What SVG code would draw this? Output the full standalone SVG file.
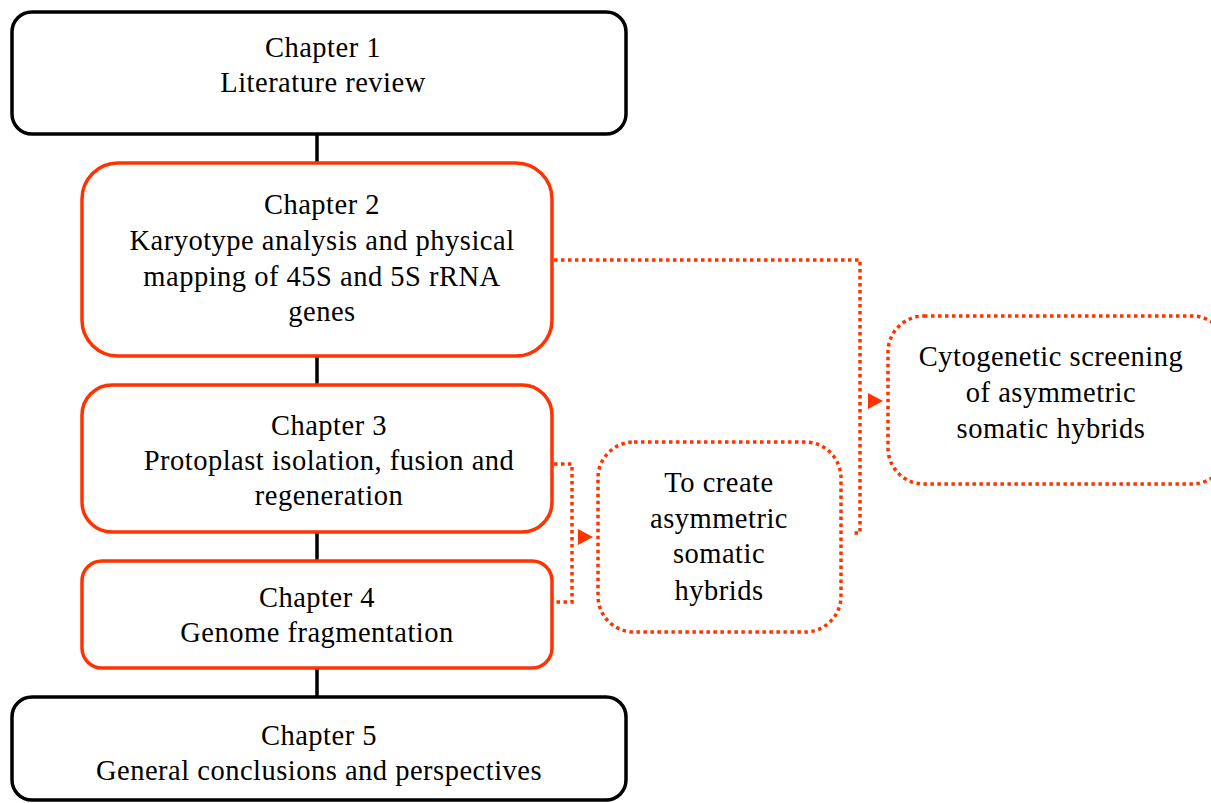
<svg xmlns="http://www.w3.org/2000/svg" width="1211" height="803" viewBox="0 0 1211 803">
<defs>
<style>
.blk{fill:#fff;stroke:#000;stroke-width:3.5}
.red{fill:#fff;stroke:#ff3300;stroke-width:3.5}
.dot{fill:none;stroke:#ff3300;stroke-width:3.5;stroke-dasharray:3.5 3.5}
.ln{stroke:#000;stroke-width:3.5}
text{font-family:"Liberation Serif","Times New Roman",serif;font-size:28.5px;letter-spacing:0.5px;fill:#000;text-anchor:middle}
.arr{fill:#ff3300}
</style>
</defs>
<g id="connectors">
<line class="ln" x1="317" y1="134" x2="317" y2="163"/>
<line class="ln" x1="317" y1="356" x2="317" y2="385"/>
<line class="ln" x1="317" y1="532" x2="317" y2="561"/>
<line class="ln" x1="317" y1="668" x2="317" y2="697"/>
<polyline class="dot" points="554,260 860,260 860,533 851,533"/>
<polygon class="arr" points="868,393 883,401 868,409"/>
<polyline class="dot" points="554,464 572,464 572,602 554,602"/>
<polygon class="arr" points="578,529 593,537 578,545"/>
</g>
<g id="ch1">
<rect class="blk" x="12" y="12" width="614" height="122" rx="20"/>
<text x="323" y="57">Chapter 1</text>
<text x="323" y="92">Literature review</text>
</g>
<g id="ch2">
<rect class="red" x="82" y="163" width="470" height="193" rx="36"/>
<text x="322" y="214">Chapter 2</text>
<text x="322" y="250">Karyotype analysis and physical</text>
<text x="322" y="286">mapping of 45S and 5S rRNA</text>
<text x="322" y="321">genes</text>
</g>
<g id="ch3">
<rect class="red" x="82" y="385" width="470" height="147" rx="30"/>
<text x="329" y="435">Chapter 3</text>
<text x="329" y="470">Protoplast isolation, fusion and</text>
<text x="329" y="505">regeneration</text>
</g>
<g id="ch4">
<rect class="red" x="82" y="561" width="470" height="107" rx="20"/>
<text x="317" y="607">Chapter 4</text>
<text x="317" y="642">Genome fragmentation</text>
</g>
<g id="ch5">
<rect class="blk" x="12" y="697" width="614" height="103" rx="20"/>
<text x="319" y="745">Chapter 5</text>
<text x="319" y="780">General conclusions and perspectives</text>
</g>
<g id="create">
<rect class="dot" x="598" y="442" width="243" height="190" rx="36"/>
<text x="719" y="492">To create</text>
<text x="719" y="528">asymmetric</text>
<text x="719" y="563">somatic</text>
<text x="719" y="600">hybrids</text>
</g>
<g id="screen">
<rect class="dot" x="888" y="316" width="340" height="168" rx="36"/>
<text x="1051" y="366">Cytogenetic screening</text>
<text x="1051" y="402">of asymmetric</text>
<text x="1051" y="438">somatic hybrids</text>
</g>
</svg>
